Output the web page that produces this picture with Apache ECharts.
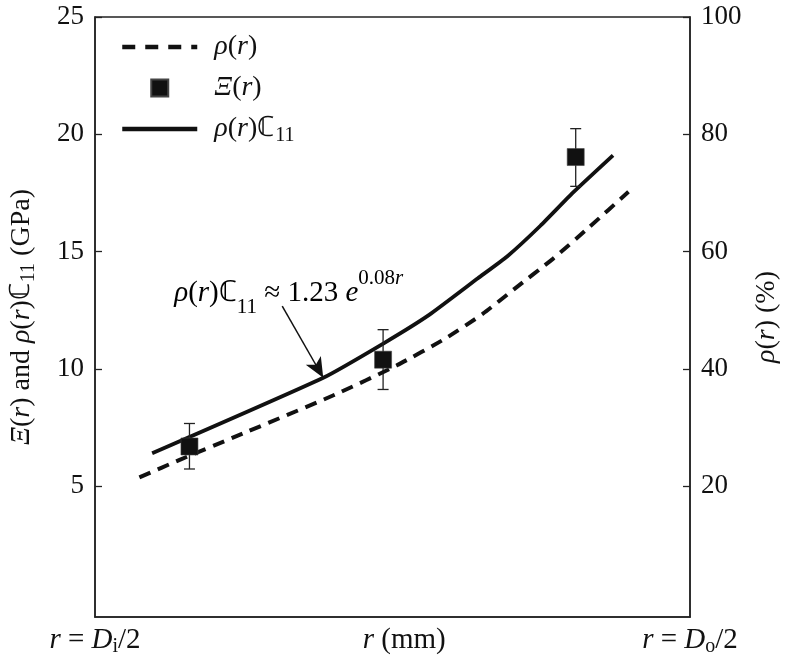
<!DOCTYPE html>
<html><head><meta charset="utf-8">
<script src="https://cdn.jsdelivr.net/npm/echarts@6/dist/echarts.min.js"></script>
<style>html,body{margin:0;padding:0;background:#fff}#c{width:789px;height:657px}</style>
</head><body><div id="c"></div>
<script>
// ---- data (r in mm) ----
const xMin = 18.9, xMax = 36.6;
const leftMin = -0.58, leftMax = 25;
const rightMin = -2.32, rightMax = 100;
const leftTicks = [5, 10, 15, 20, 25];
const rightTicks = [20, 40, 60, 80, 100];
const xTickValues = [18.9, 28.1, 36.6];
const xTickLabels = ['{i|r}{n| = }{i|D}{sub|i}{n|/2}', '{i|r}{n| (mm)}', '{i|r}{n| = }{i|D}{sub|o}{n|/2}'];

const rhoR   = [20.22, 21.47, 23.02, 26.04, 27.88, 29.33, 30.44, 31.37, 32.53, 33.61, 34.77];
const rhoPct = [21.5, 24.6, 28.3, 35.6, 40.6, 45.2, 49.4, 53.6, 58.8, 64.2, 70.2];
const fitR   = [20.60, 25.69, 27.50, 28.84, 30.29, 31.16, 32.15, 33.11, 34.31];
const fitVal = [6.40, 9.62, 11.10, 12.30, 13.86, 14.79, 16.10, 17.50, 19.10];
const xiR    = [21.71, 27.47, 33.20];
const xiVal  = [6.69, 10.39, 19.03];
const xiLow  = [5.73, 9.12, 17.78];
const xiHigh = [7.67, 11.67, 20.24];
const arrowFrom = [24.47, 12.67];
const arrowTo   = [25.69, 9.62];

const FF = 'Liberation Serif';
const INK = '#111';
function rich(L, subOff, supOff, F, S) {
  F = F || 28; S = S || 20;
  return {
    n: {fontFamily: FF, fontSize: F, lineHeight: L, color: INK},
    i: {fontFamily: FF, fontSize: F, lineHeight: L, color: INK, fontStyle: 'italic'},
    sub: {fontFamily: FF, fontSize: S, lineHeight: L - 2 * subOff, verticalAlign: 'bottom', color: INK},
    sup: {fontFamily: FF, fontSize: S, lineHeight: L - 2 * supOff, verticalAlign: 'top', color: INK},
    supi: {fontFamily: FF, fontSize: S, lineHeight: L - 2 * supOff, verticalAlign: 'top', color: INK, fontStyle: 'italic'}
  };
}
const legendNames = {
  rho: '{i|ρ}{n|(}{i|r}{n|)}',
  xi: '{i|Ξ}{n|(}{i|r}{n|)}',
  fit: '{i|ρ}{n|(}{i|r}{n|)ℂ}{sub|11}'
};

const chart = echarts.init(document.getElementById('c'), null, {renderer: 'canvas'});
const option = {
  animation: false,
  backgroundColor: '#fff',
  grid: {left: 91, right: 90, top: 17, bottom: 36, show: true, borderColor: '#222', borderWidth: 1.5, backgroundColor: 'transparent'},
  legend: {
    orient: 'vertical', left: 115, top: 28, itemWidth: 75, itemHeight: 17, itemGap: 13,
    data: [
      {name: 'rho', itemStyle: {opacity: 0}, lineStyle: {width: 4.5, type: [13, 10], color: INK}},
      {name: 'xi', icon: 'path://M0,0L1,0L1,1L0,1Z'},
      {name: 'fit', itemStyle: {opacity: 0}, lineStyle: {width: 4.5, color: INK}}
    ],
    formatter: n => legendNames[n],
    textStyle: {padding: [0, 0, 0, 12], rich: rich(34, 9, 9)}
  },
  xAxis: {
    type: 'value', min: xMin, max: xMax,
    axisLine: {show: true, onZero: false, lineStyle: {color: '#222', width: 1.5}},
    axisTick: {show: false}, splitLine: {show: false},
    axisLabel: {
      customValues: xTickValues, margin: 6,
      formatter: v => { let k = 0, d = 1e9; xTickValues.forEach((t, j) => { if (Math.abs(t - v) < d) { d = Math.abs(t - v); k = j; } }); return xTickLabels[k]; },
      rich: rich(34, 9, 9, 29, 20)
    }
  },
  yAxis: [{
    type: 'value', min: leftMin, max: leftMax, position: 'left',
    axisLine: {show: true, onZero: false, lineStyle: {color: '#222', width: 1.5}},
    axisTick: {show: true, inside: true, length: 7, customValues: leftTicks, lineStyle: {color: '#222', width: 1.3}},
    axisLabel: {customValues: leftTicks, margin: 11, fontFamily: FF, fontSize: 27, color: INK},
    splitLine: {show: false},
    name: '{i|Ξ}{n|(}{i|r}{n|) and }{i|ρ}{n|(}{i|r}{n|)ℂ}{sub|11}{n| (GPa)}',
    nameLocation: 'middle', nameGap: 56, nameRotate: 90,
    nameTextStyle: {rich: rich(34, 9, 9)}
  }, {
    type: 'value', min: rightMin, max: rightMax, position: 'right',
    axisLine: {show: true, onZero: false, lineStyle: {color: '#222', width: 1.5}},
    axisTick: {show: true, inside: true, length: 7, customValues: rightTicks, lineStyle: {color: '#222', width: 1.3}},
    axisLabel: {customValues: rightTicks, margin: 11, fontFamily: FF, fontSize: 27, color: INK},
    splitLine: {show: false},
    name: '{i|ρ}{n|(}{i|r}{n|) (%)}',
    nameLocation: 'middle', nameGap: 60, nameRotate: 90,
    nameTextStyle: {rich: rich(34, 9, 9)}
  }],
  series: [{
    name: 'rho', type: 'line', yAxisIndex: 1, symbol: 'none', smooth: 0.2,
    data: rhoR.map((r, k) => [r, rhoPct[k]]),
    lineStyle: {color: INK, width: 4, type: [12, 8]}, itemStyle: {color: INK}
  }, {
    name: 'xiErr', type: 'custom', yAxisIndex: 0,
    data: xiR.map((r, k) => [r, xiLow[k], xiHigh[k]]),
    renderItem: (params, api) => {
      const lo = api.coord([api.value(0), api.value(1)]);
      const hi = api.coord([api.value(0), api.value(2)]);
      const w = 5.5, st = {stroke: '#222', lineWidth: 1.3};
      return {type: 'group', children: [
        {type: 'line', shape: {x1: lo[0], y1: lo[1], x2: hi[0], y2: hi[1]}, style: st},
        {type: 'line', shape: {x1: lo[0] - w, y1: lo[1], x2: lo[0] + w, y2: lo[1]}, style: st},
        {type: 'line', shape: {x1: hi[0] - w, y1: hi[1], x2: hi[0] + w, y2: hi[1]}, style: st}
      ]};
    }, z: 3
  }, {
    name: 'fit', type: 'line', yAxisIndex: 0, symbol: 'none', smooth: 0.15,
    data: fitR.map((r, k) => [r, fitVal[k]]),
    lineStyle: {color: INK, width: 3.8}, itemStyle: {color: INK},
    markLine: {
      silent: true, symbol: ['none', 'arrow'], symbolSize: [13, 20],
      lineStyle: {color: INK, width: 1.5, type: 'solid'}, label: {show: false},
      data: [[{coord: arrowFrom}, {coord: arrowTo}]]
    }, z: 2
  }, {
    name: 'xi', type: 'scatter', yAxisIndex: 0, symbol: 'rect', symbolSize: 17,
    data: xiR.map((r, k) => [r, xiVal[k]]),
    itemStyle: {color: INK, borderColor: '#444', borderWidth: 0.6, opacity: 1}, z: 4
  }]
};
chart.setOption(option);
const p = chart.convertToPixel({xAxisIndex: 0, yAxisIndex: 0}, arrowFrom);
chart.setOption({graphic: [{
  type: 'text', x: p[0] - 108, y: p[1] - 13, silent: true,
  style: {
    text: '{i|ρ}{n|(}{i|r}{n|)ℂ}{sub|11}{n| ≈ 1.23 }{i|e}{sup|0.08}{supi|r}',
    rich: rich(50, 9, 16, 29, 21), align: 'left', verticalAlign: 'middle'
  }
}]});
</script></body></html>
